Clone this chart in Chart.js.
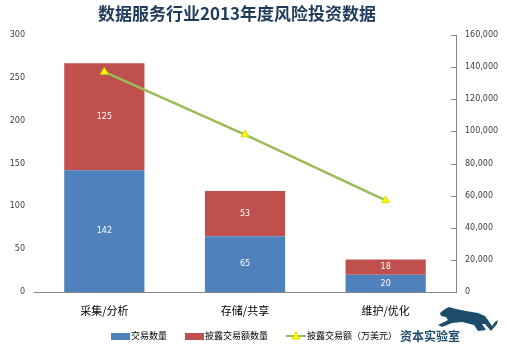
<!DOCTYPE html>
<html>
<head>
<meta charset="utf-8">
<script src="https://cdn.jsdelivr.net/npm/chart.js@4/dist/chart.umd.min.js"></script>
<style>
  body { margin: 0; background: #fff; }
  canvas { display: block; }
</style>
</head>
<body>
<canvas id="chart" width="507" height="347"></canvas>
<script>
const categories = ['采集/分析', '存储/共享', '维护/优化'];
const dealCount = [142, 65, 20];
const disclosedCount = [125, 53, 18];
const disclosedAmount = [137000, 98000, 57000];
const leftTicks = [0, 50, 100, 150, 200, 250, 300];
const rightTicks = [0, 20000, 40000, 60000, 80000, 100000, 120000, 140000, 160000];

const CJK = '"Noto Sans CJK SC", "Noto Sans", sans-serif';
const NUM = '"DejaVu Sans", sans-serif';

// white value labels in the middle of each bar segment
const barLabels = {
    id: 'barLabels',
    afterDatasetsDraw(chart) {
        const ctx = chart.ctx;
        ctx.save();
        ctx.fillStyle = '#fff';
        ctx.font = '8px ' + NUM;
        ctx.textAlign = 'center';
        ctx.textBaseline = 'middle';
        chart.data.datasets.forEach((ds, i) => {
            if (ds.type === 'line') return;
            chart.getDatasetMeta(i).data.forEach((bar, j) => {
                ctx.fillText(ds.data[j], bar.x, (bar.y + bar.base) / 2);
            });
        });
        ctx.restore();
    }
};

// short inward tick marks on the right axis
const rightAxisTicks = {
    id: 'rightAxisTicks',
    afterDraw(chart) {
        const s = chart.scales.y1;
        const ctx = chart.ctx;
        ctx.save();
        ctx.strokeStyle = '#868686';
        ctx.lineWidth = 1;
        ctx.beginPath();
        rightTicks.forEach(v => {
            const y = Math.round(s.getPixelForValue(v)) + 0.5;
            ctx.moveTo(s.left - 5, y);
            ctx.lineTo(s.left, y);
        });
        ctx.stroke();
        ctx.restore();
    }
};

// title, legend row and the logo at the bottom right
const decorations = {
    id: 'decorations',
    afterDraw(chart) {
        const ctx = chart.ctx;
        const ds = chart.data.datasets;
        ctx.save();

        ctx.fillStyle = '#1F3B5C';
        ctx.font = 'bold 17px ' + CJK;
        ctx.textAlign = 'center';
        ctx.textBaseline = 'middle';
        ctx.fillText('数据服务行业2013年度风险投资数据', 237, 14);

        ctx.font = '9px ' + CJK;
        ctx.textAlign = 'left';
        const ly = 336;
        let x = 111;
        ds.forEach(d => {
            if (d.type === 'line') {
                ctx.strokeStyle = d.borderColor;
                ctx.lineWidth = 2;
                ctx.beginPath();
                ctx.moveTo(x, ly);
                ctx.lineTo(x + 20, ly);
                ctx.stroke();
                ctx.fillStyle = d.pointBackgroundColor;
                ctx.strokeStyle = d.pointBorderColor;
                ctx.lineWidth = 1;
                ctx.beginPath();
                ctx.moveTo(x + 10, ly - 4);
                ctx.lineTo(x + 14, ly + 3);
                ctx.lineTo(x + 6, ly + 3);
                ctx.closePath();
                ctx.fill();
                ctx.stroke();
                x += 21;
            } else {
                ctx.fillStyle = d.backgroundColor;
                ctx.fillRect(x, ly - 3, 19, 7);
                x += 20;
            }
            ctx.fillStyle = '#000';
            ctx.fillText(d.label, x, ly);
            x += ctx.measureText(d.label).width + 18;
        });

        ctx.fillStyle = '#1E4D6B';
        ctx.font = 'bold 12px ' + CJK;
        ctx.fillText('资本实验室', 400, 336);

        // leaping panther
        ctx.beginPath();
        ctx.moveTo(440, 313);
        ctx.lineTo(445, 309);
        ctx.lineTo(449, 307);
        ctx.lineTo(456, 309);
        ctx.lineTo(466, 311);
        ctx.lineTo(478, 313);
        ctx.lineTo(485, 316);
        ctx.lineTo(488, 320);
        ctx.lineTo(492, 326);
        ctx.lineTo(495, 322);
        ctx.lineTo(498, 320);
        ctx.lineTo(497, 324);
        ctx.lineTo(491, 331);
        ctx.lineTo(485, 324);
        ctx.lineTo(482, 324);
        ctx.lineTo(486, 330);
        ctx.lineTo(478, 331);
        ctx.lineTo(474, 325);
        ctx.lineTo(462, 322);
        ctx.lineTo(452, 323);
        ctx.lineTo(442, 327);
        ctx.lineTo(438, 325);
        ctx.lineTo(448, 320);
        ctx.lineTo(446, 317);
        ctx.lineTo(441, 316);
        ctx.closePath();
        ctx.fill();

        ctx.restore();
    }
};

new Chart(document.getElementById('chart'), {
    data: {
        labels: categories,
        datasets: [
            {
                type: 'bar',
                label: '交易数量',
                data: dealCount,
                backgroundColor: '#4F81BD',
                categoryPercentage: 1.0,
                barPercentage: 0.57,
                order: 1
            },
            {
                type: 'bar',
                label: '披露交易额数量',
                data: disclosedCount,
                backgroundColor: '#C0504D',
                categoryPercentage: 1.0,
                barPercentage: 0.57,
                order: 1
            },
            {
                type: 'line',
                label: '披露交易额（万美元）',
                data: disclosedAmount,
                yAxisID: 'y1',
                borderColor: '#9BBB59',
                borderWidth: 2.5,
                pointStyle: 'triangle',
                pointRadius: 4.5,
                pointBackgroundColor: '#FFFF00',
                pointBorderColor: '#D8D800',
                pointBorderWidth: 1,
                order: 0
            }
        ]
    },
    options: {
        responsive: false,
        animation: false,
        layout: { padding: { top: 35, bottom: 29, left: 0, right: 0 } },
        plugins: {
            legend: { display: false },
            title: { display: false },
            tooltip: { enabled: false }
        },
        scales: {
            x: {
                stacked: true,
                grid: { display: false, drawTicks: false },
                border: { color: '#868686' },
                ticks: { color: '#000', font: { family: CJK, size: 11 }, padding: 12 },
                afterFit: s => { s.height = 26; }
            },
            y: {
                stacked: true,
                position: 'left',
                min: 0,
                max: 300,
                afterBuildTicks: s => { s.ticks = leftTicks.map(v => ({ value: v })); },
                grid: { display: false, drawTicks: false },
                border: { display: false },
                ticks: { color: '#404040', font: { family: NUM, size: 8 }, padding: 9 },
                afterFit: s => { s.width = 34; }
            },
            y1: {
                stacked: false,
                position: 'right',
                min: 0,
                max: 160000,
                afterBuildTicks: s => { s.ticks = rightTicks.map(v => ({ value: v })); },
                grid: { display: false, drawTicks: false },
                border: { color: '#868686' },
                ticks: {
                    color: '#404040',
                    font: { family: NUM, size: 8 },
                    padding: 9,
                    callback: v => v.toLocaleString('en-US')
                },
                afterFit: s => { s.width = 51; }
            }
        }
    },
    plugins: [barLabels, rightAxisTicks, decorations]
});
</script>
</body>
</html>
